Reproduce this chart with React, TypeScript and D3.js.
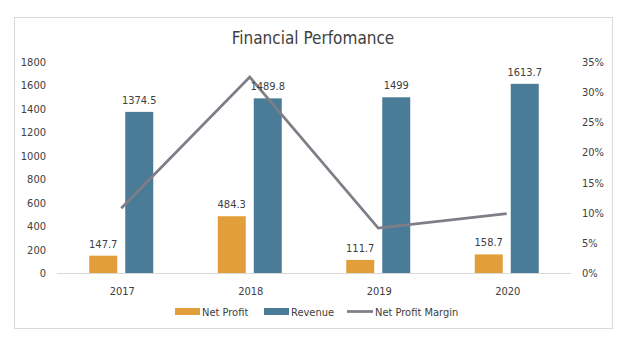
import React from "react";
import * as d3 from "d3";

const years = ["2017", "2018", "2019", "2020"];
const netProfit = [147.7, 484.3, 111.7, 158.7];
const revenue = [1374.5, 1489.8, 1499, 1613.7];
const margin = [0.1075, 0.3251, 0.0745, 0.0983];
const leftTicks = [0, 200, 400, 600, 800, 1000, 1200, 1400, 1600, 1800];
const rightTicks = [0, 0.05, 0.1, 0.15, 0.2, 0.25, 0.3, 0.35];

const W = 625, H = 346;
const FONT = "Tahoma, 'DejaVu Sans Condensed', 'Liberation Sans', sans-serif";
const ORANGE = "#E19E3A";
const BLUE = "#4A7C98";
const GRAY = "#7F7E87";
const TEXT = "#404040";

export default function App() {
  const x = d3.scaleBand<string>().domain(years).range([57, 571]);
  const yL = d3.scaleLinear().domain([0, 1800]).range([273, 62]);
  const yR = d3.scaleLinear().domain([0, 0.35]).range([273, 62]);
  const barW = 28, gap = 8;
  const cx = (y: string) => (x(y) as number) + x.bandwidth() / 2;
  const line = d3.line<number>().x((_, i) => cx(years[i])).y((d) => yR(d));

  return (
    <svg width={W} height={H} style={{ position: "absolute", left: 0, top: 0, background: "#fff" }} fontFamily={FONT}>
      <rect x={14.5} y={17.5} width={598} height={311} fill="#fff" stroke="#D9D9D9" />
      <text x={313} y={44} textAnchor="middle" fontSize={17} fill={TEXT}>Financial Perfomance</text>
      {leftTicks.map((t) => (
        <text key={t} x={46} y={yL(t) + 4} textAnchor="end" fontSize={11} fill={TEXT}>{t}</text>
      ))}
      {rightTicks.map((t) => (
        <text key={t} x={582} y={yR(t) + 4} textAnchor="start" fontSize={11} fill={TEXT}>{d3.format(".0%")(t)}</text>
      ))}
      <line x1={57} x2={571} y1={273.5} y2={273.5} stroke="#D9D9D9" />
      {years.map((yr, i) => {
        const c = cx(yr);
        return (
          <g key={yr}>
            <rect x={c - gap / 2 - barW} y={yL(netProfit[i])} width={barW} height={yL(0) - yL(netProfit[i])} fill={ORANGE} />
            <rect x={c + gap / 2} y={yL(revenue[i])} width={barW} height={yL(0) - yL(revenue[i])} fill={BLUE} />
            <text x={c + 1} y={291 + 4} textAnchor="middle" fontSize={11} fill={TEXT}>{yr}</text>
          </g>
        );
      })}
      <path d={line(margin) as string} fill="none" stroke={GRAY} strokeWidth={2.75} />
      {years.map((yr, i) => {
        const c = cx(yr);
        return (
          <g key={"l" + yr}>
            <text x={c - gap / 2 - barW / 2} y={yL(netProfit[i]) - 8} textAnchor="middle" fontSize={11} fill={TEXT}>{netProfit[i]}</text>
            <text x={c + gap / 2 + barW / 2} y={yL(revenue[i]) - 8} textAnchor="middle" fontSize={11} fill={TEXT}>{revenue[i]}</text>
          </g>
        );
      })}
      <g fontSize={11} fill={TEXT}>
        <rect x={175} y={308} width={25} height={7} fill={ORANGE} />
        <text x={202} y={316}>Net Profit</text>
        <rect x={264} y={308} width={25} height={7} fill={BLUE} />
        <text x={291} y={316}>Revenue</text>
        <line x1={347} x2={373} y1={311.5} y2={311.5} stroke={GRAY} strokeWidth={2.75} />
        <text x={375} y={316}>Net Profit Margin</text>
      </g>
    </svg>
  );
}
